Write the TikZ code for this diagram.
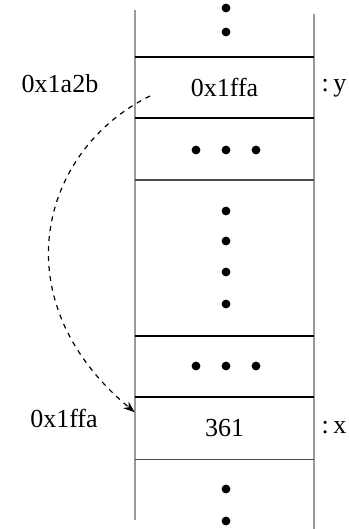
\documentclass[tikz,border=0pt]{standalone}
\usepackage{fontspec}
\setmainfont{Liberation Serif}
\usetikzlibrary{arrows.meta}
\definecolor{wallgray}{HTML}{9A9A9A}

\begin{document}
\begin{tikzpicture}[x=0.5pt, y=-0.5pt, >=Stealth, font=\fontsize{13}{15}\selectfont,
    cell/.style={minimum width=89.5pt, minimum height=30.5pt, inner sep=0pt},
    sep/.style={line width=1pt},
    thinsep/.style={line width=0.6pt, black!70},
    dot/.style={fill=black}]
  \useasboundingbox (0,0) rectangle (348,529);
  % Wande des Speichers
  \draw[wallgray, line width=0.7pt] (135,10) -- (135,520);
  \draw[wallgray, line width=0.7pt] (314,14) -- (314,529);

  % Zellen
  \node[cell] (ycell) at (224.5,87.5) {0x1ffa};
  \node[cell, minimum height=31pt] (xcell) at (224.5,428) {361};

  % Trennlinien
  \draw[sep] (ycell.north west) -- (ycell.north east);
  \draw[sep] (ycell.south west) -- (ycell.south east);
  \draw[sep] (xcell.north west) -- (xcell.north east);
  \draw[thinsep] (xcell.south west) -- (xcell.south east);
  \draw[thinsep] (135,180) -- (314,180);
  \draw[sep] (135,336) -- (314,336);

  % Punkte
  \foreach \y in {8,32,211,241,272,304,489,521}
    \fill[dot] (226,\y) circle (2.2pt);
  \foreach \x in {196,226,256} {
    \fill[dot] (\x,150) circle (2.2pt);
    \fill[dot] (\x,366) circle (2.2pt);
  }

  % Adressen und Namen
  \node (yaddr) at (60,84) {0x1a2b};
  \node (yname) at (334,88) {:\,y};
  \node (xaddr) at (64,418) {0x1ffa};
  \node (xname) at (334,428) {:\,x};

  % Zeiger
  \coordinate (ptrtail) at (150,96);
  \draw[->, dash pattern=on 2.5pt off 2.5pt, line width=0.6pt]
    (ptrtail) .. controls (40,150) and (0,300) .. (xcell.170);
\end{tikzpicture}
\end{document}
